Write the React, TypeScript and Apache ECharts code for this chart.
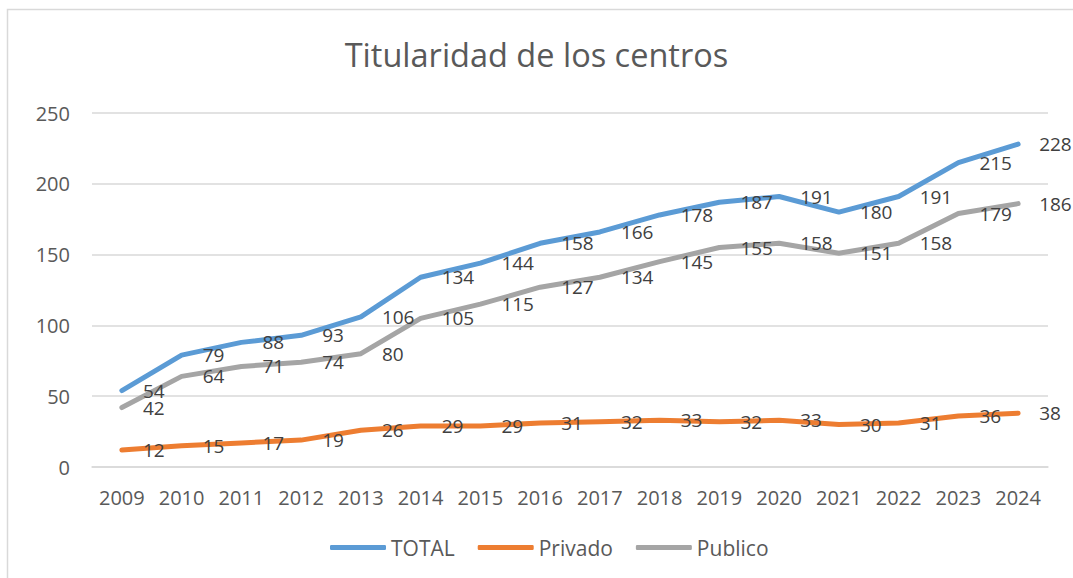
import React, { useEffect, useRef } from "react";
import * as echarts from "echarts";

const years = ["2009","2010","2011","2012","2013","2014","2015","2016","2017","2018","2019","2020","2021","2022","2023","2024"];
const total = [54, 79, 88, 93, 106, 134, 144, 158, 166, 178, 187, 191, 180, 191, 215, 228];
const privado = [12, 15, 17, 19, 26, 29, 29, 31, 32, 33, 32, 33, 30, 31, 36, 38];
const publico = [42, 64, 71, 74, 80, 105, 115, 127, 134, 145, 155, 158, 151, 158, 179, 186];
const seriesNames = ["TOTAL", "Privado", "Publico"];
const colors = ["#5B9BD5", "#ED7D31", "#A5A5A5"];

const FONT = "Open Sans";

export default function App() {
  const ref = useRef<HTMLDivElement>(null);
  useEffect(() => {
    if (!ref.current) return;
    const chart = echarts.init(ref.current, null, { renderer: "svg" });
    const data = [total, privado, publico];
    chart.setOption({
      animation: false,
      backgroundColor: "#ffffff",
      title: {
        text: "Titularidad de los centros",
        left: "center",
        top: 33,
        textStyle: { fontFamily: FONT, fontSize: 32.5, fontWeight: "normal", color: "#595959" },
      },
      graphic: [
        {
          type: "rect",
          shape: { x: 7.5, y: 9.5, width: 1100, height: 600 },
          style: { fill: "none", stroke: "#D9D9D9", lineWidth: 1.5 },
          silent: true,
          z: -1,
        },
      ],
      legend: {
        bottom: 20,
        left: 330,
        padding: 0,
        itemWidth: 56,
        itemHeight: 5,
        itemGap: 23,
        icon: "roundRect",
        data: seriesNames,
        textStyle: { fontFamily: FONT, fontSize: 21, color: "#595959" },
      },
      grid: { left: 92, right: 25, top: 113, bottom: 111 },
      xAxis: {
        type: "category",
        data: years,
        boundaryGap: true,
        axisLine: { show: true, lineStyle: { color: "#D9D9D9", width: 1.5 } },
        axisTick: { show: false },
        axisLabel: { fontFamily: FONT, fontSize: 20, color: "#595959", margin: 20 },
      },
      yAxis: {
        type: "value",
        min: 0,
        max: 250,
        interval: 50,
        axisLine: { show: false },
        axisTick: { show: false },
        splitLine: { lineStyle: { color: "#D9D9D9", width: 1.5 } },
        axisLabel: { fontFamily: FONT, fontSize: 20, color: "#595959", margin: 22 },
      },
      series: seriesNames.map((name, i) => ({
        name,
        type: "line",
        data: data[i],
        symbol: "circle",
        symbolSize: 0.01,
        showSymbol: true,
        color: colors[i],
        itemStyle: { color: colors[i] },
        lineStyle: { width: 5, color: colors[i], cap: "round", join: "round" },
        labelLayout: { hideOverlap: false },
        label: {
          show: true,
          position: "right",
          distance: 21,
          fontFamily: FONT,
          fontSize: 19,
          lineHeight: 15,
          color: "#404040",
        },
      })),
    });
    return () => chart.dispose();
  }, []);
  return (
    <div
      ref={ref}
      style={{ position: "absolute", left: 0, top: 0, width: 1073, height: 578 }}
    />
  );
}
